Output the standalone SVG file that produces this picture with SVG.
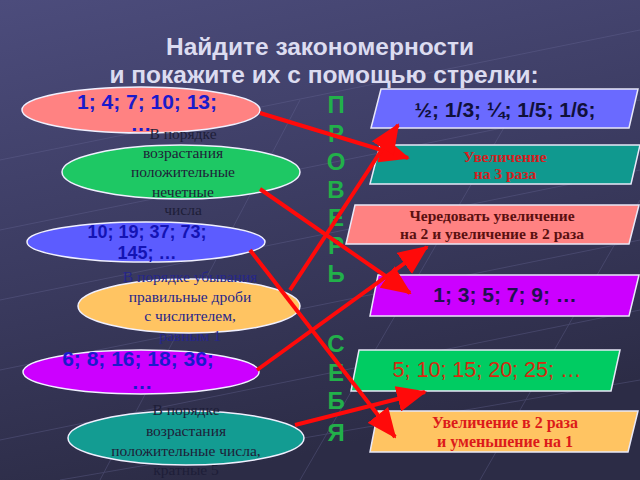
<svg xmlns="http://www.w3.org/2000/svg" width="640" height="480" viewBox="0 0 640 480">
<defs>
<linearGradient id="bg" x1="0" y1="0" x2="0.3" y2="1">
<stop offset="0" stop-color="#4c4c7c"/>
<stop offset="0.5" stop-color="#3c3c62"/>
<stop offset="1" stop-color="#2c2c46"/>
</linearGradient>
<marker id="ah" markerUnits="userSpaceOnUse" markerWidth="30" markerHeight="26" refX="28" refY="13" orient="auto">
<path d="M0,0 L30,13 L0,26 Z" fill="#ff0a0a"/>
</marker>
<style>
.ell{stroke:#f0f0ff;stroke-width:1.5}
.par{stroke:#e8e8f8;stroke-width:1.5}
.num{font-family:"Liberation Sans",Arial,sans-serif;font-weight:bold;text-anchor:middle}
.reg{font-weight:normal}
.ser{font-family:"Liberation Serif","Times New Roman",serif;text-anchor:middle}
.conn line{stroke:#ff0a0a;stroke-width:4;marker-end:url(#ah)}
.chk{font-family:"Liberation Sans",Arial,sans-serif;font-weight:bold;font-size:24px;fill:#22b04a;text-anchor:middle}
.grid{stroke:#6a6a98;stroke-width:1;opacity:0.35}
</style>
</defs>
<rect width="640" height="480" fill="url(#bg)"/>
<g class="grid">
<line x1="0" y1="230" x2="640" y2="100"/>
<line x1="0" y1="300" x2="640" y2="170"/>
<line x1="0" y1="370" x2="640" y2="240"/>
<line x1="0" y1="440" x2="640" y2="310"/>
<line x1="60" y1="480" x2="640" y2="380"/>
<line x1="0" y1="160" x2="640" y2="30"/>
<line x1="100" y1="480" x2="300" y2="100"/>
<line x1="300" y1="480" x2="520" y2="100"/>
<line x1="480" y1="480" x2="640" y2="200"/>
</g>
<g id="title" font-family="'Liberation Sans',Arial,sans-serif" font-weight="bold" font-size="24.5" fill="#dcdcf0" text-anchor="middle">
<text x="320" y="55">Найдите закономерности</text>
<text x="324" y="83">и покажите их с помощью стрелки:</text>
</g>
<g id="check">
<text class="chk" x="336" y="113">П</text>
<text class="chk" x="336" y="142">Р</text>
<text class="chk" x="336" y="170">О</text>
<text class="chk" x="336" y="198">В</text>
<text class="chk" x="336" y="226">Е</text>
<text class="chk" x="336" y="254">Р</text>
<text class="chk" x="336" y="282">Ь</text>
<text class="chk" x="336" y="352">С</text>
<text class="chk" x="336" y="381">Е</text>
<text class="chk" x="336" y="409">Б</text>
<text class="chk" x="336" y="441">Я</text>
</g>
<g id="L1">
<ellipse class="ell" cx="141" cy="110" rx="119" ry="23" fill="#ff8282"/>
<text class="num" x="147" y="109" font-size="21" fill="#1a1acc">1; 4; 7; 10; 13;</text>
<text class="num" x="141" y="131" font-size="21" fill="#1a1acc">…</text>
</g>
<g id="L2">
<ellipse class="ell" cx="181" cy="172" rx="119" ry="27" fill="#1ec864"/>
<g class="ser" font-size="15.5" fill="#1e1e38">
<text x="183" y="139">В порядке</text>
<text x="183" y="158">возрастания</text>
<text x="183" y="177">положительные</text>
<text x="183" y="197">нечетные</text>
<text x="183" y="215">числа</text>
</g>
</g>
<g id="L3">
<ellipse class="ell" cx="146" cy="242" rx="119" ry="20" fill="#5c5cff"/>
<text class="num" x="147" y="238" font-size="18" fill="#1414b4">10; 19; 37; 73;</text>
<text class="num" x="147" y="259" font-size="18" fill="#1414b4">145; …</text>
</g>
<g id="L4">
<ellipse class="ell" cx="189" cy="306" rx="111" ry="27" fill="#ffc462"/>
<g class="ser" font-size="15.5" fill="#26268a">
<text x="190" y="282">В порядке убывания</text>
<text x="190" y="302">правильные дроби</text>
<text x="190" y="321">с числителем,</text>
<text x="190" y="341">равным 1</text>
</g>
</g>
<g id="L5">
<ellipse class="ell" cx="141" cy="372" rx="118" ry="22" fill="#cc00ff"/>
<text class="num" x="138" y="366" font-size="21" fill="#1a1acc">6; 8; 16; 18; 36;</text>
<text class="num" x="142" y="389" font-size="21" fill="#1a1acc">…</text>
</g>
<g id="L6">
<ellipse class="ell" cx="186" cy="438" rx="118" ry="27" fill="#139c92"/>
<g class="ser" font-size="15.5" fill="#1e1e38">
<text x="186" y="415">В порядке</text>
<text x="186" y="436">возрастания</text>
<text x="186" y="456">положительные числа,</text>
<text x="186" y="475">кратные 5</text>
</g>
</g>
<g id="R1">
<polygon class="par" points="381,89 638,89 629,128 371,128" fill="#6a6aff"/>
<text class="num" x="505" y="117" font-size="21" fill="#10103a">½; 1/3; ¼; 1/5; 1/6;</text>
</g>
<g id="R2">
<polygon class="par" points="380,145 640,145 631,184 370,184" fill="#10998f"/>
<g class="ser" font-size="15.5" font-weight="bold" fill="#d42020">
<text x="505" y="162">Увеличение</text>
<text x="505" y="179">на 3 раза</text>
</g>
</g>
<g id="R3">
<polygon class="par" points="355,205 639,205 629,244 346,244" fill="#ff8282"/>
<g class="ser" font-size="15.5" font-weight="bold" fill="#5a1010">
<text x="492" y="221">Чередовать увеличение</text>
<text x="492" y="239">на 2 и увеличение в 2 раза</text>
</g>
</g>
<g id="R4">
<polygon class="par" points="378,275 639,275 629,316 370,316" fill="#cc00ff"/>
<text class="num" x="505" y="302" font-size="21" fill="#201050">1; 3; 5; 7; 9; …</text>
</g>
<g id="R5">
<polygon class="par" points="359,350 620,350 611,391 351,391" fill="#00cc62"/>
<text class="num reg" x="487" y="377" font-size="21.5" fill="#d42a10">5; 10; 15; 20; 25; …</text>
</g>
<g id="R6">
<polygon class="par" points="378,411 638,411 628,452 370,452" fill="#ffc462"/>
<g class="ser" font-size="16" font-weight="bold" fill="#dc1a1a">
<text x="505" y="428">Увеличение в 2 раза</text>
<text x="505" y="447">и уменьшение на 1</text>
</g>
</g>
<g id="connectors" class="conn">
<line x1="260" y1="113" x2="408" y2="158"/>
<line x1="260" y1="189" x2="410" y2="293"/>
<line x1="250" y1="250" x2="395" y2="437"/>
<line x1="290" y1="290" x2="398" y2="125"/>
<line x1="257" y1="370" x2="427" y2="247"/>
<line x1="295" y1="425" x2="425" y2="392"/>
</g>
</svg>
